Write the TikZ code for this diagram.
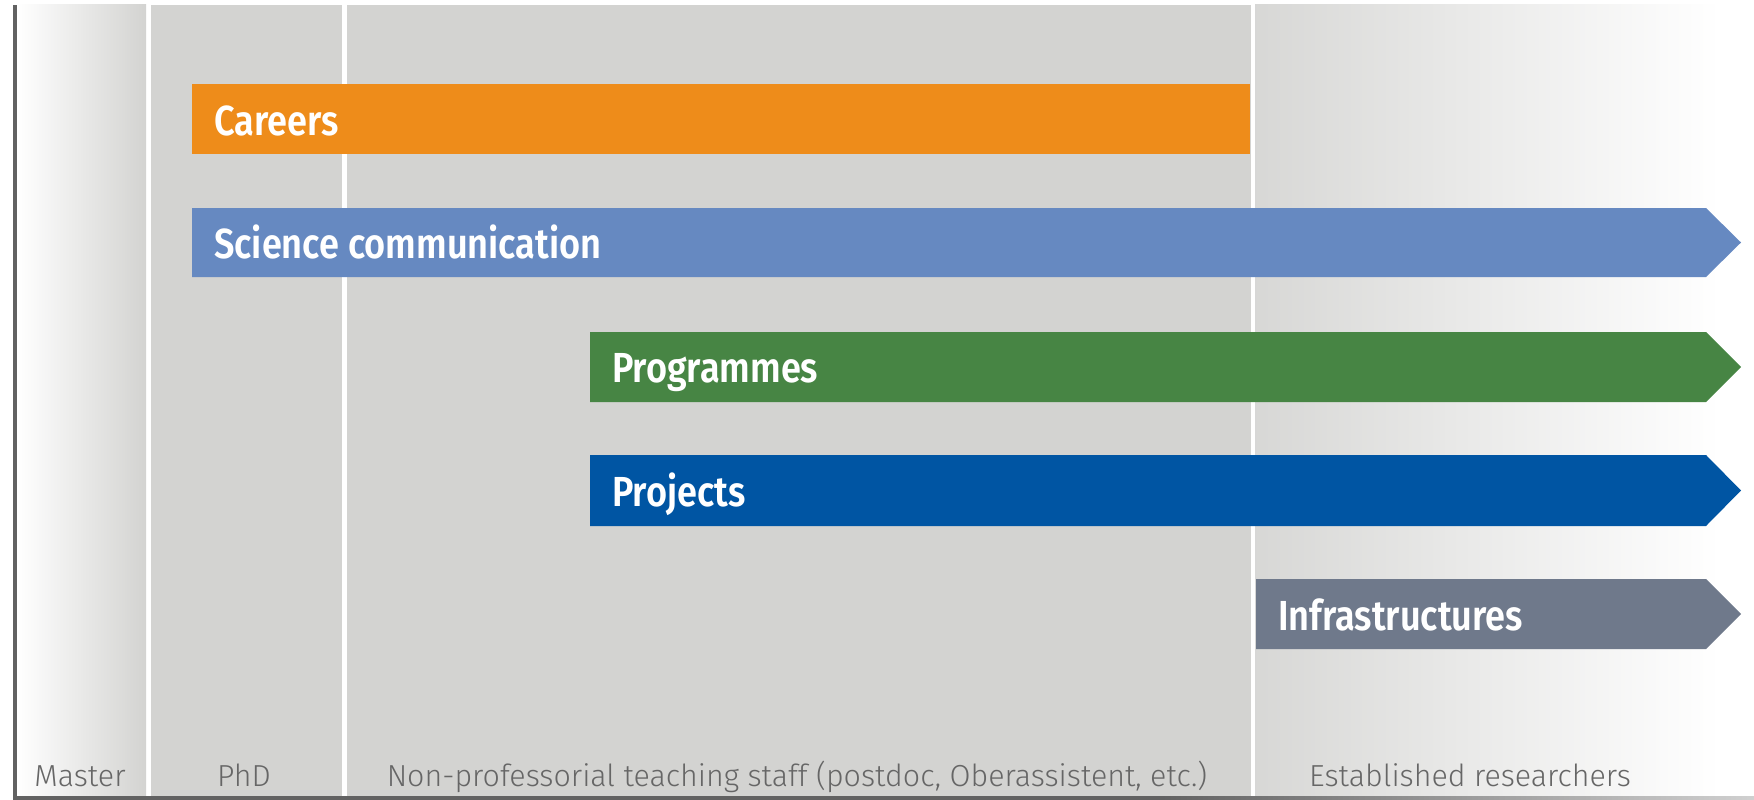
\documentclass[tikz,border=0pt]{standalone}
\usepackage{fontspec}
\setmainfont{Fira Sans}
\newfontfamily\barfont{Fira Sans SemiBold}[FakeStretch=0.86]
\newfontfamily\labfont{Fira Sans Light}
\definecolor{bggray}{HTML}{D3D3D1}
\definecolor{edgegray}{HTML}{626262}
\definecolor{labgray}{HTML}{666666}
\definecolor{corange}{HTML}{EE8C1A}
\definecolor{cscience}{HTML}{6689C1}
\definecolor{cgreen}{HTML}{478544}
\definecolor{cblue}{HTML}{0055A3}
\definecolor{cslate}{HTML}{6F798B}
\pgfdeclarehorizontalshading{bottomfade}{100bp}{color(0bp)=(edgegray); color(25bp)=(edgegray); color(58bp)=(edgegray); color(75bp)=(edgegray!30!white); color(100bp)=(edgegray!30!white)}
\newcommand\arrowbar[4]{\fill[#1] (#2,#3) -- (1706,#3) -- (1741,{(#3+#4)/2}) -- (1706,#4) -- (#2,#4) -- cycle;}
\begin{document}
\begin{tikzpicture}[x=1pt,y=-1pt,
  bartext/.style={anchor=base west, inner sep=0pt, text=white, font=\barfont\fontsize{42}{42}\selectfont},
  lab/.style={anchor=base, inner sep=0pt, text=labgray, font=\labfont\fontsize{30.4}{30.4}\selectfont}]
\useasboundingbox (0,0) rectangle (1754,800);
% background columns
\shade[left color=white, right color=bggray] (17,5) rectangle (146,797);
\fill[bggray] (151,5) rectangle (342,797);
\fill[bggray] (347,5) rectangle (1251,797);
\shade[left color=bggray!90!white, right color=white] (1255,5) rectangle (1720,797);
% frame lines
\fill[edgegray] (13,5) rectangle (17,800);
\shade[shading=bottomfade] (13,796.5) rectangle (1754,800);
% bars
\fill[corange] (192,84) rectangle (1250,154);
\arrowbar{cscience}{192}{208}{277}
\arrowbar{cgreen}{590}{332}{402}
\arrowbar{cblue}{590}{455}{526}
\arrowbar{cslate}{1256}{579}{649}
% bar texts
\node[bartext] (tcareers) at (214,135) {Careers};
\node[bartext] (tscience) at (214,258.5) {Science communication};
\node[bartext] (tprogrammes) at (612,382) {Programmes};
\node[bartext] (tprojects) at (612,506.5) {Projects};
\node[bartext] (tinfra) at (1278,630) {Infrastructures};
% column labels
\node[lab] (lmaster) at (80,786) {Master};
\node[lab] (lphd) at (244,786) {PhD};
\node[lab] (lnonprof) at (797,786) {Non-professorial teaching staff (postdoc, Oberassistent, etc.)};
\node[lab] (lestab) at (1470,786) {Established researchers};
\end{tikzpicture}
\end{document}
